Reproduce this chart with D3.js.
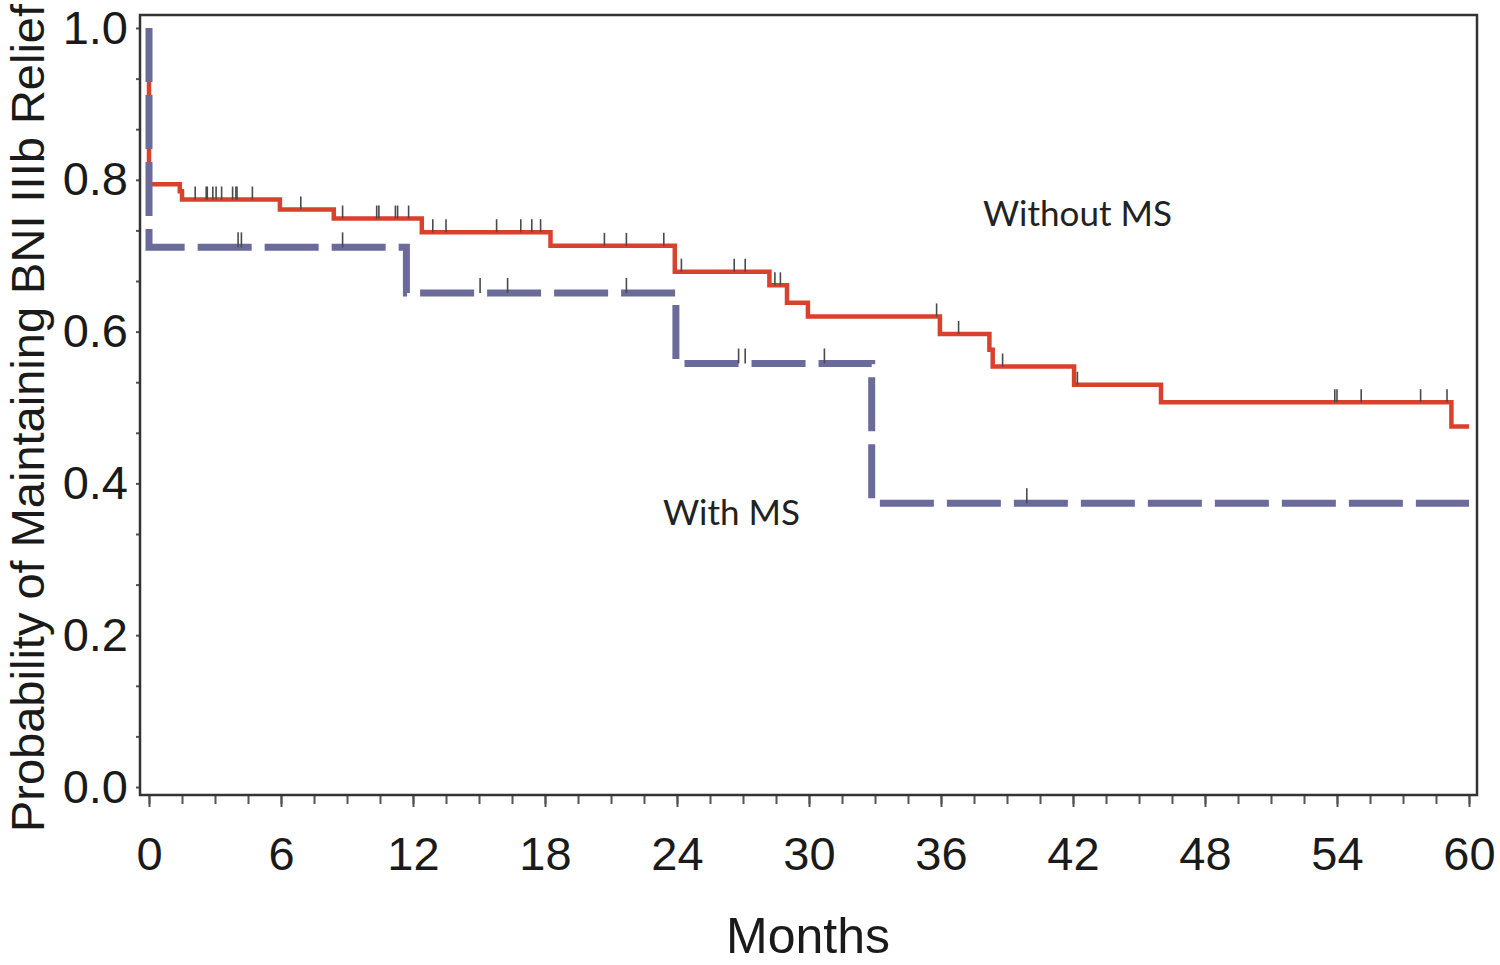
<!DOCTYPE html>
<html>
<head>
<meta charset="utf-8">
<script src="https://cdn.jsdelivr.net/npm/d3@7"></script>
<style>
  html, body { margin: 0; padding: 0; background: #fff; }
  svg { display: block; }
</style>
</head>
<body>
<svg id="chart" width="1500" height="965"></svg>
<script>
// ---- data ----
const xTickLabels = [0, 6, 12, 18, 24, 30, 36, 42, 48, 54, 60];
const yTickLabels = [0.0, 0.2, 0.4, 0.6, 0.8, 1.0];

// Without MS (red, solid)
const withoutTimes = [0, 0, 1.4, 1.5, 5.95, 8.4, 12.4, 18.25, 23.9, 28.2, 29.0, 29.95, 35.95, 38.2, 38.35, 42.05, 46.0, 59.2, 60];
const withoutSurv  = [1.0, 0.794, 0.785, 0.774, 0.761, 0.749, 0.731, 0.713, 0.679, 0.661, 0.638, 0.620, 0.597, 0.576, 0.554, 0.530, 0.507, 0.475, 0.475];
const withoutCensored = [2.1, 2.6, 2.65, 2.9, 3.05, 3.3, 3.8, 3.95, 4.0, 4.7, 6.9, 8.8, 10.35, 10.45, 11.2, 11.3, 11.8,
  12.9, 13.5, 15.8, 16.9, 17.4, 17.8, 20.7, 21.7, 23.4, 24.2, 26.6, 27.1, 28.45, 28.7, 35.8, 36.8, 38.8, 42.2,
  53.9, 54.0, 55.1, 57.8, 59.0];

// With MS (blue, dashed)
const withTimes = [0, 0, 11.7, 23.95, 32.85, 60];
const withSurv  = [1.0, 0.711, 0.651, 0.558, 0.374, 0.374];
const withCensored = [4.05, 4.2, 8.8, 15.05, 16.3, 21.7, 26.8, 27.1, 30.7, 39.9];

const seriesLabels = ["Without MS", "With MS"];
const xTitle = "Months";
const yTitle = "Probability of Maintaining BNI IIIb Relief";

// ---- layout ----
const svg = d3.select("#chart");
const frame = { left: 140, right: 1477, top: 15, bottom: 795 };
const x = d3.scaleLinear().domain([0, 60]).range([149, 1469]);
const y = d3.scaleLinear().domain([0, 1]).range([787, 28]);

const redColor = "#d9412c";
const blueColor = "#6b6b9b";
const labelFont = "Liberation Sans, Arial, sans-serif";

// axes
const xMinor = d3.range(0, 60.001, 1.5);
const xAxis = d3.axisBottom(x).tickValues(xMinor).tickSize(9).tickFormat("");
svg.append("g").attr("transform", `translate(0,${frame.bottom})`).call(xAxis)
  .call(g => g.select(".domain").remove())
  .call(g => g.selectAll("line").attr("stroke", "#555").attr("stroke-width", 2));
const xMajor = d3.axisBottom(x).tickValues(xTickLabels).tickSize(12).tickPadding(30).tickFormat(d3.format("d"));
svg.append("g").attr("transform", `translate(0,${frame.bottom})`).call(xMajor)
  .call(g => g.select(".domain").remove())
  .call(g => g.selectAll("line").attr("stroke", "#555").attr("stroke-width", 2))
  .call(g => g.selectAll("text").attr("font-family", labelFont)
     .attr("font-size", 47).attr("fill", "#1a1a1a"));

const yMinor = d3.range(0, 16).map(i => i / 15);
const yAxis = d3.axisLeft(y).tickValues(yMinor).tickSize(4).tickFormat("");
svg.append("g").attr("transform", `translate(${frame.left},0)`).call(yAxis)
  .call(g => g.select(".domain").remove())
  .call(g => g.selectAll("line").attr("stroke", "#555").attr("stroke-width", 2));
const yLab = d3.axisLeft(y).tickValues(yTickLabels).tickSize(0).tickPadding(12).tickFormat(d3.format(".1f"));
svg.append("g").attr("transform", `translate(${frame.left},0)`).call(yLab)
  .call(g => g.select(".domain").remove())
  .call(g => g.selectAll("text").attr("font-family", labelFont)
     .attr("font-size", 47).attr("fill", "#1a1a1a"));

// frame
svg.append("rect")
  .attr("x", frame.left).attr("y", frame.top)
  .attr("width", frame.right - frame.left).attr("height", frame.bottom - frame.top)
  .attr("fill", "none").attr("stroke", "#333").attr("stroke-width", 2.5);

// step lines
const line = d3.line().x(d => x(d[0])).y(d => y(d[1])).curve(d3.curveStepAfter);
const redPts = withoutTimes.map((t, i) => [t, withoutSurv[i]]);
const bluePts = withTimes.map((t, i) => [t, withSurv[i]]);

function survAt(times, surv, t) {
  let v = surv[0];
  for (let i = 0; i < times.length; i++) { if (times[i] <= t) v = surv[i]; }
  return v;
}

svg.append("path").attr("d", line(redPts))
  .attr("fill", "none").attr("stroke", redColor).attr("stroke-width", 4.5);

svg.append("g").selectAll("line").data(withoutCensored).join("line")
  .attr("x1", d => x(d)).attr("x2", d => x(d))
  .attr("y1", d => y(survAt(withoutTimes, withoutSurv, d)))
  .attr("y2", d => y(survAt(withoutTimes, withoutSurv, d)) - 13)
  .attr("stroke", "#4a4a4a").attr("stroke-width", 1.6);

svg.append("path").attr("d", line(bluePts))
  .attr("fill", "none").attr("stroke", blueColor).attr("stroke-width", 7)
  .attr("stroke-dasharray", "54,13");

svg.append("g").selectAll("line").data(withCensored).join("line")
  .attr("x1", d => x(d)).attr("x2", d => x(d))
  .attr("y1", d => y(survAt(withTimes, withSurv, d)))
  .attr("y2", d => y(survAt(withTimes, withSurv, d)) - 15)
  .attr("stroke", "#4a4a4a").attr("stroke-width", 1.6);

// series labels
svg.append("text").attr("x", 983).attr("y", 226).text(seriesLabels[0])
  .attr("font-family", "Lato, Carlito, sans-serif").attr("font-size", 35).attr("fill", "#222");
svg.append("text").attr("x", 663).attr("y", 525).text(seriesLabels[1])
  .attr("font-family", "Lato, Carlito, sans-serif").attr("font-size", 35).attr("fill", "#222");

// axis titles
svg.append("text").attr("x", 808).attr("y", 953).attr("text-anchor", "middle").text(xTitle)
  .attr("font-family", labelFont).attr("font-size", 50).attr("fill", "#1a1a1a");
svg.append("text").attr("transform", "translate(44,418) rotate(-90)").attr("text-anchor", "middle").text(yTitle)
  .attr("font-family", labelFont).attr("font-size", 47).attr("fill", "#1a1a1a");
</script>
</body>
</html>
